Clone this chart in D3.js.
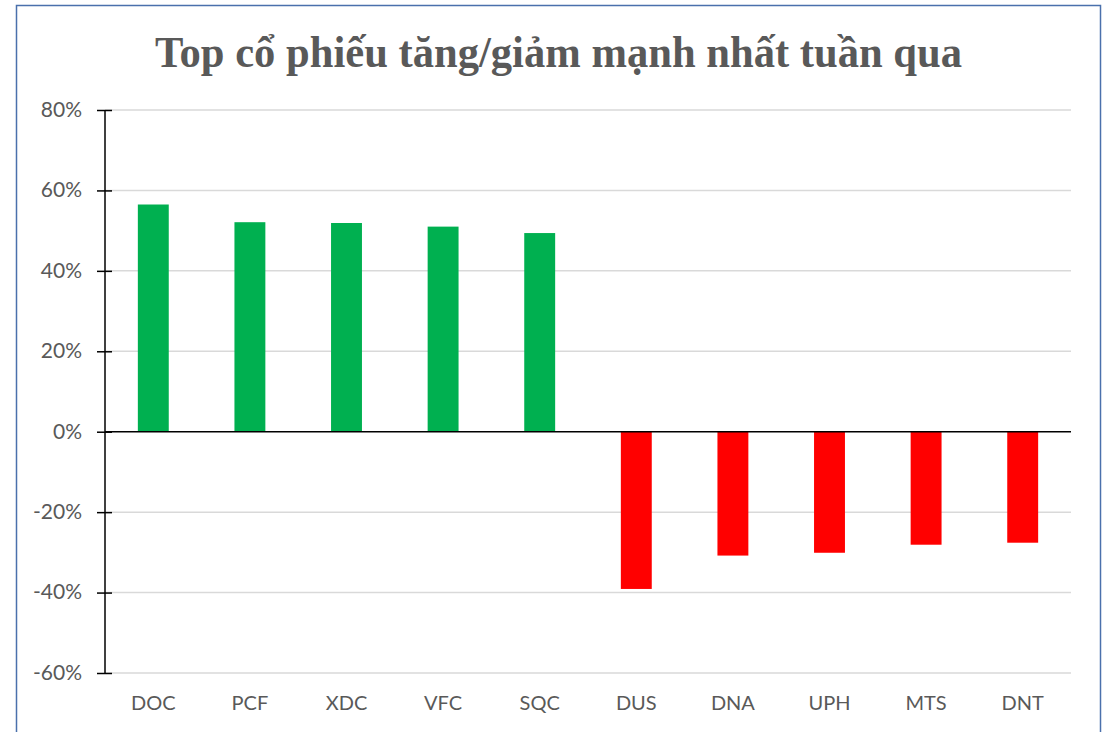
<!DOCTYPE html>
<html>
<head>
<meta charset="utf-8">
<script src="https://cdn.jsdelivr.net/npm/d3@7"></script>
<style>
  body { margin: 0; background: #fff; }
  svg { display: block; }
</style>
</head>
<body>
<div id="chart"></div>
<script>
const width = 1109;
const height = 732;

// Data
const tickers = ['DOC', 'PCF', 'XDC', 'VFC', 'SQC', 'DUS', 'DNA', 'UPH', 'MTS', 'DNT'];
const changes = [56.5, 52.1, 51.9, 51.0, 49.4, -39.1, -30.8, -30.1, -28.1, -27.6];
const yTicks = [-60, -40, -20, 0, 20, 40, 60, 80];
const titleText = 'Top cổ phiếu tăng/giảm mạnh nhất tuần qua';

const data = tickers.map((t, i) => ({ name: t, value: changes[i] }));

const margin = { top: 110, right: 38, bottom: 59, left: 105 };

const svg = d3.select('#chart').append('svg')
  .attr('width', width)
  .attr('height', height);

// Outer frame
svg.append('rect')
  .attr('x', 16.5)
  .attr('y', 5.5)
  .attr('width', 1084)
  .attr('height', 760)
  .attr('fill', 'none')
  .attr('stroke', '#4a70ac')
  .attr('stroke-width', 1.5);

// Title (condensed serif, like the original)
svg.append('text')
  .attr('x', 155)
  .attr('y', 66.5)
  .attr('font-family', '"Liberation Serif", "Times New Roman", serif')
  .attr('font-weight', 'bold')
  .attr('font-size', 45)
  .attr('fill', '#595959')
  .attr('textLength', 807)
  .attr('lengthAdjust', 'spacingAndGlyphs')
  .text(titleText);

const x = d3.scaleBand()
  .domain(tickers)
  .range([margin.left, width - margin.right])
  .paddingInner(0.68)
  .paddingOuter(0.34);

const y = d3.scaleLinear()
  .domain([-60, 80])
  .range([height - margin.bottom, margin.top]);

// Gridlines
svg.append('g')
  .selectAll('line')
  .data(yTicks.filter(d => d !== 0))
  .join('line')
  .attr('x1', margin.left)
  .attr('x2', width - margin.right)
  .attr('y1', d => y(d))
  .attr('y2', d => y(d))
  .attr('stroke', '#d9d9d9')
  .attr('stroke-width', 1.5);

// Bars
svg.append('g')
  .selectAll('rect')
  .data(data)
  .join('rect')
  .attr('x', d => x(d.name))
  .attr('width', x.bandwidth())
  .attr('y', d => y(Math.max(0, d.value)))
  .attr('height', d => Math.abs(y(d.value) - y(0)))
  .attr('fill', d => d.value >= 0 ? '#00b050' : '#ff0000');

// Zero line
svg.append('line')
  .attr('x1', margin.left)
  .attr('x2', width - margin.right)
  .attr('y1', y(0))
  .attr('y2', y(0))
  .attr('stroke', '#000')
  .attr('stroke-width', 1.5);

// Y axis with crossing ticks
const yAxis = svg.append('g')
  .attr('transform', `translate(${margin.left},0)`)
  .call(d3.axisLeft(y)
    .tickValues(yTicks)
    .tickSize(8)
    .tickPadding(15)
    .tickFormat(d => d + '%'));

yAxis.select('.domain').remove();
yAxis.append('line')
  .attr('y1', y(80))
  .attr('y2', y(-60))
  .attr('stroke', '#000')
  .attr('stroke-width', 1.5);
yAxis.selectAll('.tick line')
  .attr('x1', 7)
  .attr('x2', -8)
  .attr('stroke', '#000')
  .attr('stroke-width', 1.5);
yAxis.selectAll('.tick text')
  .attr('font-family', 'Lato, "Open Sans", sans-serif')
  .attr('font-size', 21)
  .attr('fill', '#595959')
  .attr('dy', '0.3em');

// Category labels
const xAxis = svg.append('g')
  .attr('transform', `translate(0,${height - margin.bottom})`)
  .call(d3.axisBottom(x).tickSize(0).tickPadding(23));

xAxis.select('.domain').remove();
xAxis.selectAll('.tick text')
  .attr('font-family', 'Lato, "Open Sans", sans-serif')
  .attr('font-size', 20)
  .attr('fill', '#595959');
</script>
</body>
</html>
